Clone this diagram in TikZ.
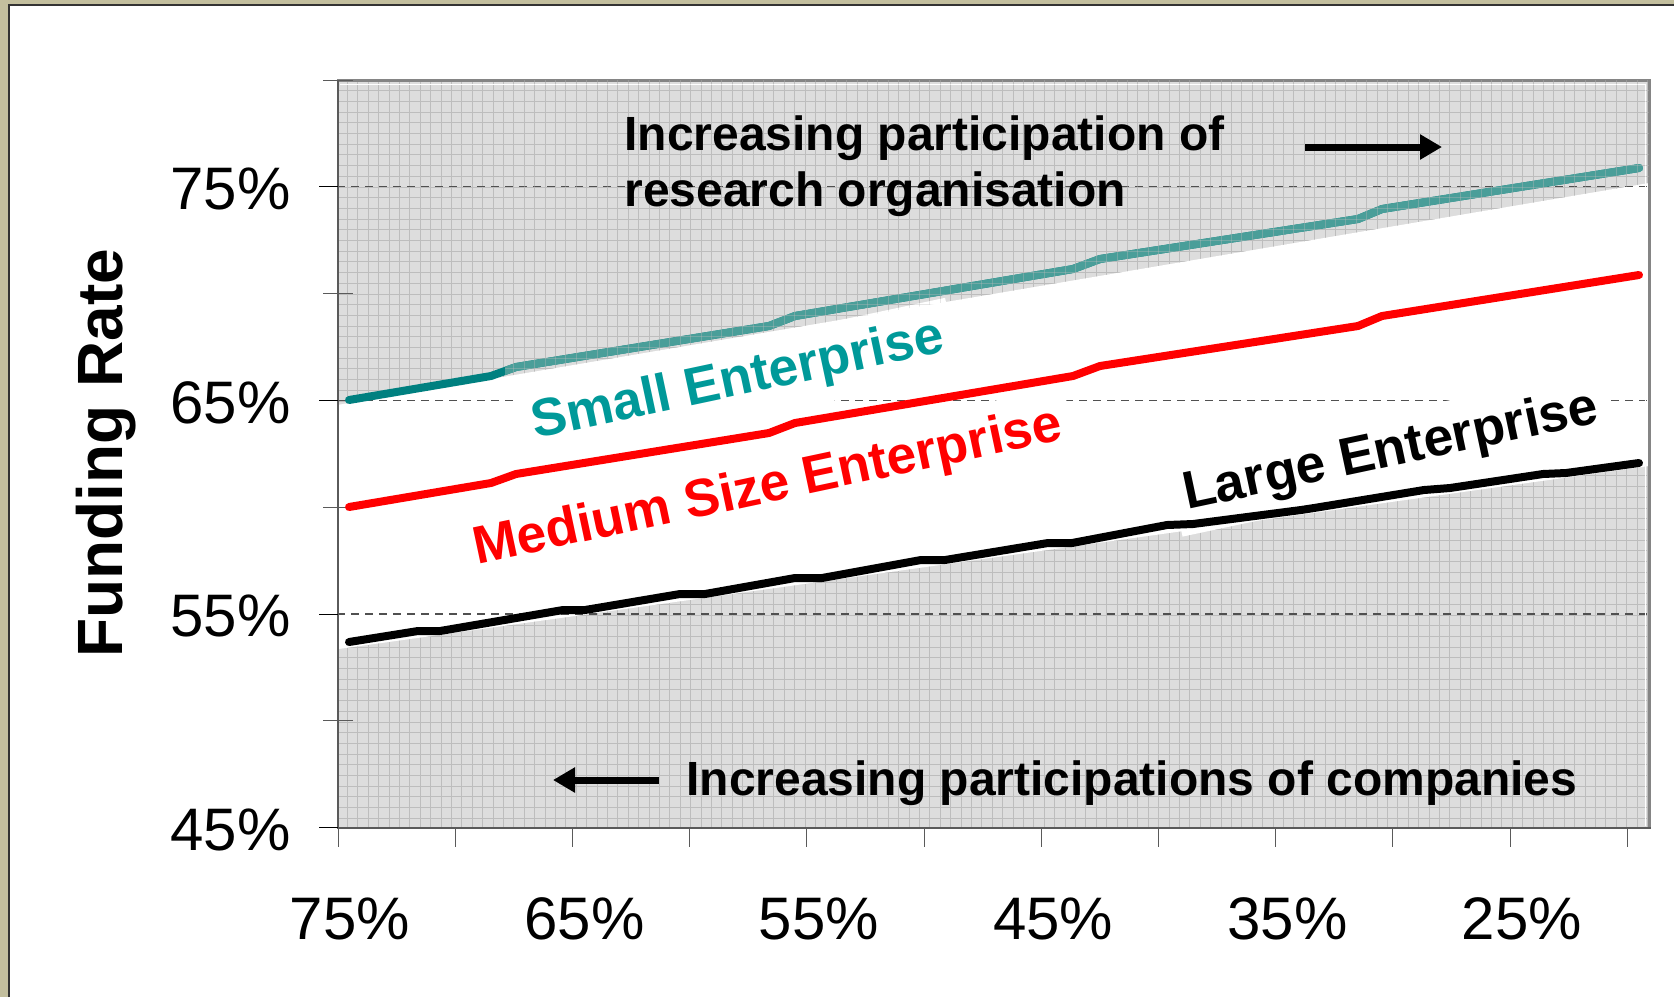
\documentclass[tikz,border=0pt]{standalone}
\usepackage{fontspec}
\setmainfont{Liberation Sans}
\usetikzlibrary{arrows.meta}
\definecolor{beige}{HTML}{C3BF9E}
\definecolor{framedark}{HTML}{333333}
\definecolor{plotbg}{HTML}{DDDDDD}
\definecolor{gridc}{HTML}{BDBDBD}
\definecolor{tealline}{HTML}{008080}
\definecolor{teallight}{HTML}{4A9E99}
\definecolor{tealtext}{HTML}{009999}
\definecolor{borderc}{HTML}{858585}
\definecolor{axisc}{HTML}{5A5A5A}
\definecolor{dashc}{HTML}{505050}
\begin{document}
\begin{tikzpicture}[x=0.5pt,y=-0.5pt,
  gridline/.style={gridc, line width=0.5pt},
  dashgrid/.style={dashc, line width=0.6pt, dash pattern=on 4pt off 3pt},
  majortick/.style={black, line width=0.5pt},
  minortick/.style={axisc, line width=0.5pt},
  xtickline/.style={axisc, line width=0.5pt},
  tlabel/.style={inner sep=0pt, font=\fontsize{30}{36}\selectfont},
  serieslabel/.style={font=\bfseries\fontsize{26.6}{32}\selectfont, rotate=12, fill=white, inner xsep=5pt, inner ysep=7pt},
  note/.style={font=\bfseries\fontsize{24}{29}\selectfont, inner sep=0pt, anchor=base west},
  dataline/.style={line width=4pt, line cap=round, line join=round},
  notearrow/.style={line width=3.5pt, -{Triangle[length=11pt,width=12pt]}},
]
\useasboundingbox (0,0) rectangle (1674,997);
% slide frame
\fill[beige] (0,0) rectangle (1674,997);
\fill[white] (9,5) rectangle (1674,997);
\draw[framedark, line width=1pt] (9,997) -- (9,5) -- (1674,5);

% plot background and grid
\fill[plotbg] (337,80) rectangle (1649,828);
\foreach \k in {1,...,126} { \draw[gridline] ({337+10.4*\k},80) -- ({337+10.4*\k},828); }
\foreach \k in {1,...,69} { \draw[gridline] (337,{80+10.7*\k}) -- (1649,{80+10.7*\k}); }

% white band between the series
\fill[white] (337,405) -- (1649,183) -- (1649,466) -- (337,649.2) -- cycle;

% dashed gridlines
\foreach \yy in {186.8,400.4,614} { \draw[dashgrid] (337,\yy) -- (1649,\yy); }

% plot border and axes
\draw[borderc, line width=1.5pt] (337,80) -- (1649,80) -- (1649,828);
\draw[white, line width=0.5pt] (340,84) -- (1645,84) -- (1645,826);
\draw[axisc, line width=1pt] (338,80) -- (338,828) -- (1651,828);
\foreach \yy in {186.8,400.4,614,827.6} { \draw[majortick] (319,\yy) -- (338,\yy); }
\foreach \yy in {80,293.6,507.2,720.8} { \draw[minortick] (323,\yy) -- (353,\yy); }
\foreach \i in {0,...,11} { \draw[xtickline] ({338+117.2*\i},828) -- ({338+117.2*\i},847); }

% series labels (white boxes)
\node[serieslabel, text=tealtext] (lsmall) at (738,381.5) {Small Enterprise};
\node[serieslabel, text=red] (lmedium) at (768,488.5) {Medium Size Enterprise};
\node[serieslabel, text=black] (llarge) at (1391,452.5) {Large Enterprise};

% data series
\draw[dataline, tealline] (349,400) -- (491,376) -- (516,367) -- (769,326) -- (795,316) -- (1073,269) -- (1100,259) -- (1358,219) -- (1382,209) -- (1639,168);
\draw[dataline, red] (349,507) -- (491,483) -- (516,474) -- (769,433) -- (795,423) -- (1073,376) -- (1100,366) -- (1358,326) -- (1382,316) -- (1639,275);
\draw[dataline, black] (349,642) -- (418,631) -- (440,631) -- (563,610) -- (585,610) -- (680,594) -- (705,594) -- (795,578) -- (822,578) -- (921,560) -- (945,560) -- (1048,543) -- (1072,543) -- (1167,525) -- (1193,524) -- (1301,510) -- (1314,508) -- (1424,490) -- (1450,488) -- (1543,474) -- (1566,473) -- (1639,463);

% translucent look of the teal series over the grey area
\begin{scope}
\clip (505,80) -- (1649,80) -- (1649,183) -- (505,376.6) -- cycle;
\draw[dataline, teallight] (349,400) -- (491,376) -- (516,367) -- (769,326) -- (795,316) -- (1073,269) -- (1100,259) -- (1358,219) -- (1382,209) -- (1639,168);
\foreach \k in {1,...,126} { \draw[gridline, opacity=0.35] ({337+10.4*\k},80) -- ({337+10.4*\k},828); }
\foreach \k in {1,...,69} { \draw[gridline, opacity=0.35] (337,{80+10.7*\k}) -- (1649,{80+10.7*\k}); }
\end{scope}

% annotations
\node[note] (top1) at (624,150.5) {Increasing participation of};
\node[note] (top2) at (624,206) {research organisation};
\coordinate (ra1) at (1305,147);
\coordinate (ra2) at (1442,147);
\draw[notearrow] (ra1) -- (ra2);
\node[note] (bottomnote) at (686,795) {Increasing participations of companies};
\coordinate (la1) at (659,780);
\coordinate (la2) at (553,780);
\draw[notearrow] (la1) -- (la2);

% axis labels
\node[tlabel, anchor=east] (y75) at (291,189) {75\%};
\node[tlabel, anchor=east] (y65) at (291,402.5) {65\%};
\node[tlabel, anchor=east] (y55) at (291,616) {55\%};
\node[tlabel, anchor=east] (y45) at (291,829.5) {45\%};
\foreach \lab [count=\i from 0] in {75,65,55,45,35,25} {
  \node[tlabel] (x\lab) at ({350+234.4*\i},918.5) {\lab\%};
}
\node[inner sep=0pt, rotate=90, font=\bfseries\fontsize{32}{38}\selectfont] (ylab) at (106,453) {Funding Rate};
\end{tikzpicture}
\end{document}
